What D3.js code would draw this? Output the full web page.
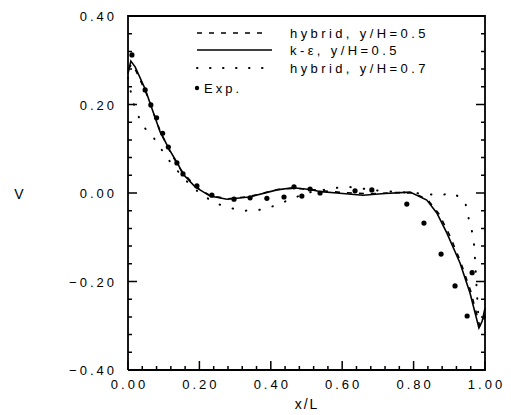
<!DOCTYPE html>
<html>
<head>
<meta charset="utf-8">
<script src="https://cdn.jsdelivr.net/npm/d3@7"></script>
<style>
body { margin: 0; background: #fff; }
text { font-family: "Liberation Sans", Arial, sans-serif; fill: #000; }
</style>
</head>
<body>
<script>
// tick values
var xTicks = [0, 0.2, 0.4, 0.6, 0.8, 1.0];
var yTicks = [-0.4, -0.2, 0, 0.2, 0.4];

// k-eps, y/H=0.5 (solid)
var kepsX = [0, 0.008, 0.02, 0.048, 0.09, 0.118, 0.14, 0.154, 0.188, 0.23, 0.277, 0.34, 0.417, 0.462, 0.51, 0.54, 0.585, 0.658, 0.72, 0.79, 0.837, 0.865, 0.893, 0.93, 0.958, 0.983, 0.992, 1.0];
var kepsY = [0.27, 0.298, 0.285, 0.235, 0.138, 0.095, 0.065, 0.043, 0.014, -0.007, -0.014, -0.009, 0.007, 0.012, 0.008, 0.003, 0, -0.005, -0.001, 0.002, -0.016, -0.045, -0.09, -0.158, -0.226, -0.305, -0.29, -0.26];

// hybrid, y/H=0.5 (dashed)
var hyb5X = [0, 0.01, 0.02, 0.05, 0.09, 0.12, 0.15, 0.19, 0.23, 0.28, 0.34, 0.42, 0.47, 0.52, 0.6, 0.68, 0.75, 0.8, 0.84, 0.87, 0.9, 0.93, 0.96, 0.985, 0.995, 1.0];
var hyb5Y = [0.28, 0.29, 0.28, 0.228, 0.14, 0.09, 0.05, 0.014, -0.006, -0.013, -0.008, 0.008, 0.011, 0.007, 0.001, -0.002, 0.001, 0, -0.016, -0.046, -0.094, -0.152, -0.222, -0.3, -0.295, -0.27];

// hybrid, y/H=0.7 (dotted)
var hyb7X = [0, 0.01, 0.02, 0.042, 0.07, 0.095, 0.12, 0.16, 0.2, 0.244, 0.286, 0.328, 0.37, 0.41, 0.45, 0.5, 0.575, 0.616, 0.706, 0.8, 0.874, 0.91, 0.944, 0.952, 0.963, 0.97, 0.977, 0.983, 0.995, 1.0];
var hyb7Y = [0.26, 0.22, 0.19, 0.151, 0.127, 0.097, 0.068, 0.03, 0.0, -0.023, -0.034, -0.04, -0.038, -0.029, -0.016, 0.0, 0.011, 0.014, 0.005, 0.0, -0.005, 0, -0.018, -0.05, -0.084, -0.12, -0.22, -0.3, -0.3, -0.28];

// experiment
var expX = [0.011, 0.048, 0.064, 0.08, 0.097, 0.113, 0.137, 0.154, 0.193, 0.235, 0.297, 0.342, 0.389, 0.437, 0.465, 0.487, 0.51, 0.538, 0.636, 0.683, 0.781, 0.829, 0.877, 0.916, 0.95, 0.964];
var expY = [0.312, 0.233, 0.199, 0.17, 0.135, 0.104, 0.068, 0.043, 0.016, -0.005, -0.014, -0.011, -0.012, -0.009, 0.014, -0.007, 0.009, 0, 0.005, 0.007, -0.025, -0.068, -0.138, -0.21, -0.278, -0.18];

var svg = d3.select("body").append("svg")
    .attr("width", 511)
    .attr("height", 415);

var margin = {left: 128, right: 26, top: 16, bottom: 45};
var width = 511 - margin.left - margin.right;
var height = 415 - margin.top - margin.bottom;

var x = d3.scaleLinear().domain([0, 1]).range([0, width]);
var y = d3.scaleLinear().domain([-0.4, 0.4]).range([height, 0]);

var g = svg.append("g")
    .attr("transform", "translate(" + margin.left + "," + margin.top + ")");

var fmt = d3.format(".2f");
var minorX = d3.range(0, 26).map(function(i) { return i * 0.04; });
var minorY = d3.range(0, 21).map(function(i) { return -0.4 + i * 0.04; });
function isMajor(v) { return Math.abs(v * 5 - Math.round(v * 5)) < 1e-6; }

var line = d3.line()
    .x(function(d) { return x(d[0]); })
    .y(function(d) { return y(d[1]); });

function pts(xs, ys) { return xs.map(function(v, i) { return [v, ys[i]]; }); }

// frame as a path through the domain corners
g.append("path")
    .datum([[0, -0.4], [1, -0.4], [1, 0.4], [0, 0.4], [0, -0.4]])
    .attr("d", line)
    .attr("fill", "none").attr("stroke", "#000").attr("stroke-width", 1.8);

// inward ticks, one path
var tickD = "";
minorY.forEach(function(v) {
    var len = isMajor(v) ? 9 : 4;
    tickD += "M0," + y(v) + "h" + len;
    tickD += "M" + width + "," + y(v) + "h" + (-len);
});
minorX.forEach(function(v) {
    var len = isMajor(v) ? 9 : 4;
    tickD += "M" + x(v) + "," + height + "v" + (-len);
});
g.append("path")
    .attr("d", tickD)
    .attr("fill", "none").attr("stroke", "#000").attr("stroke-width", 1.5);

g.append("path").datum(pts(hyb7X, hyb7Y))
    .attr("d", line).attr("fill", "none").attr("stroke", "#000")
    .attr("stroke-width", 2).attr("stroke-linecap", "round")
    .attr("stroke-dasharray", "0.5,13");

g.append("path").datum(pts(hyb5X, hyb5Y))
    .attr("d", line).attr("fill", "none").attr("stroke", "#000")
    .attr("stroke-width", 1.6).attr("stroke-dasharray", "5,7");

g.append("path").datum(pts(kepsX, kepsY))
    .attr("d", line).attr("fill", "none").attr("stroke", "#000")
    .attr("stroke-width", 1.6);

g.selectAll(".exp").data(pts(expX, expY)).enter().append("circle")
    .attr("class", "exp")
    .attr("cx", function(d) { return x(d[0]); })
    .attr("cy", function(d) { return y(d[1]); })
    .attr("r", 2.6).attr("fill", "#000");

// tick labels from the scales
g.selectAll(".ylab").data(yTicks).enter().append("text")
    .attr("class", "ylab")
    .attr("x", -11).attr("y", function(d) { return y(d) + 5; })
    .style("text-anchor", "end")
    .style("font-size", "13px").style("letter-spacing", "3px")
    .text(fmt);
g.selectAll(".xlab").data(xTicks).enter().append("text")
    .attr("class", "xlab")
    .attr("x", function(d) { return x(d) + 1.5; })
    .attr("y", height + 19)
    .style("text-anchor", "middle")
    .style("font-size", "13px").style("letter-spacing", "3px")
    .text(fmt);

// legend
var legend = svg.append("g");
var rows = [
    {label: "hybrid, y/H=0.5", dash: "5,7", y: 33, x2: 265, w: 1.6, cap: "butt"},
    {label: "k-\u03b5, y/H=0.5", dash: null, y: 50, x2: 272, w: 1.6, cap: "butt"},
    {label: "hybrid, y/H=0.7", dash: "0.5,12.5", y: 68, x2: 265, w: 2, cap: "round"}
];
rows.forEach(function(r) {
    legend.append("line")
        .attr("x1", 197).attr("x2", r.x2).attr("y1", r.y).attr("y2", r.y)
        .attr("stroke", "#000").attr("stroke-width", r.w)
        .attr("stroke-linecap", r.cap)
        .attr("stroke-dasharray", r.dash);
    legend.append("text")
        .attr("x", 290).attr("y", r.y + 5)
        .style("font-size", "13px").style("letter-spacing", "3.4px")
        .text(r.label);
});
legend.append("circle").attr("cx", 197).attr("cy", 88).attr("r", 2.2).attr("fill", "#000");
legend.append("text")
    .attr("x", 204).attr("y", 93)
    .style("font-size", "13px").style("letter-spacing", "3px")
    .text("Exp.");

// axis labels
svg.append("text")
    .attr("x", 307).attr("y", 409)
    .style("text-anchor", "middle")
    .style("font-size", "14px").style("letter-spacing", "2px")
    .text("x/L");

svg.append("text")
    .attr("x", 19).attr("y", 199)
    .style("text-anchor", "middle")
    .style("font-size", "14px")
    .text("V");
</script>
</body>
</html>
